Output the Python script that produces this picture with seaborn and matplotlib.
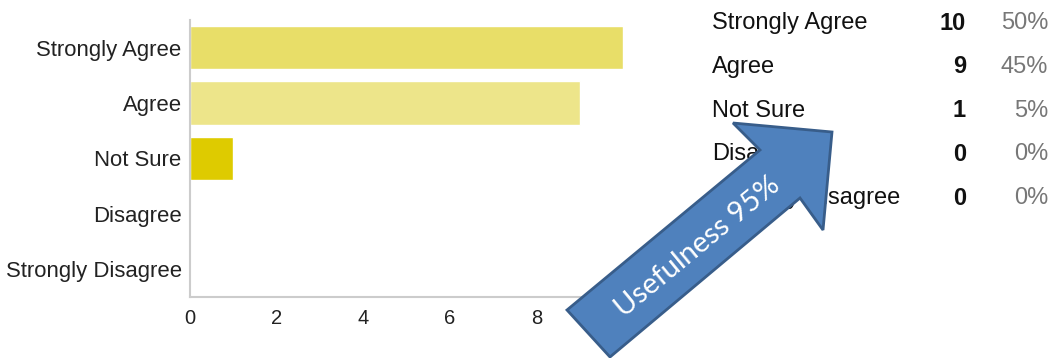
import matplotlib
matplotlib.use("Agg")
import matplotlib.pyplot as plt
from matplotlib.patches import Polygon
import seaborn as sns
import pandas as pd

# ── Data ─────────────────────────────────────────────────────────────────────
categories = ["Strongly Agree", "Agree", "Not Sure", "Disagree", "Strongly Disagree"]
counts = [10, 9, 1, 0, 0]
bar_colors = ["#E8DE68", "#EDE58A", "#DECB00", "#E0D060", "#E0D060"]
x_ticks = [0, 2, 4, 6, 8, 10]
arrow_label = "Usefulness 95%"

W, H = 1052, 358

sns.set_theme(style="white")
plt.rcParams["font.family"] = ["Liberation Sans", "DejaVu Sans"]

df = pd.DataFrame({"category": categories, "count": counts})

fig = plt.figure(figsize=(W / 100, H / 100), dpi=100)
ax = fig.add_axes([190 / W, 1 - 297 / H, (623 - 190) / W, (297 - 20) / H])

sns.barplot(data=df, y="category", x="count", hue="category",
            palette=bar_colors, order=categories, hue_order=categories,
            width=0.78, saturation=1, legend=False, ax=ax)

ax.set_xlim(0, 10)
ax.set_ylim(4.5, -0.5)
ax.set_xticks(x_ticks)
ax.set_xlabel("")
ax.set_ylabel("")
for side in ["top", "right"]:
    ax.spines[side].set_visible(False)
for side in ["left", "bottom"]:
    ax.spines[side].set_color("#cccccc")
    ax.spines[side].set_linewidth(1.5)
ax.tick_params(axis="both", length=4, width=1, color="#cccccc", pad=2)
ax.tick_params(axis="y", labelsize=15.9, labelcolor="#222222")
ax.tick_params(axis="x", labelsize=14.5, labelcolor="#222222", pad=5)
ax.grid(False)

# ── Summary table on the right ───────────────────────────────────────────────
total = sum(counts)
for i, (cat, c) in enumerate(zip(categories, counts)):
    y = 1 - (23 + i * 43.8) / H
    fig.text(712 / W, y, cat, fontsize=17, color="#111111", va="center", ha="left")
    fig.text(966 / W, y, str(c), fontsize=17, fontweight="bold",
             color="#111111", va="center", ha="right")
    fig.text(1048 / W, y, f"{c / total:.0%}", fontsize=17,
             color="#777777", va="center", ha="right")

# ── Blue arrow overlay ───────────────────────────────────────────────────────
arrow_px = [(567, 310), (760, 150), (733, 123), (832, 132),
            (823, 230), (800, 198), (610, 357)]
arrow = Polygon([(x / W, 1 - y / H) for x, y in arrow_px], closed=True,
                transform=fig.transFigure, facecolor="#4F81BD",
                edgecolor="#385D8A", linewidth=2, zorder=10)
fig.patches.append(arrow)
fig.text(698 / W, 1 - 247 / H, arrow_label, rotation=39.5, rotation_mode="anchor",
         ha="center", va="center", fontsize=21, color="white",
         family=["Lato", "DejaVu Sans"], zorder=11)

fig.savefig("out.png", dpi=100)
